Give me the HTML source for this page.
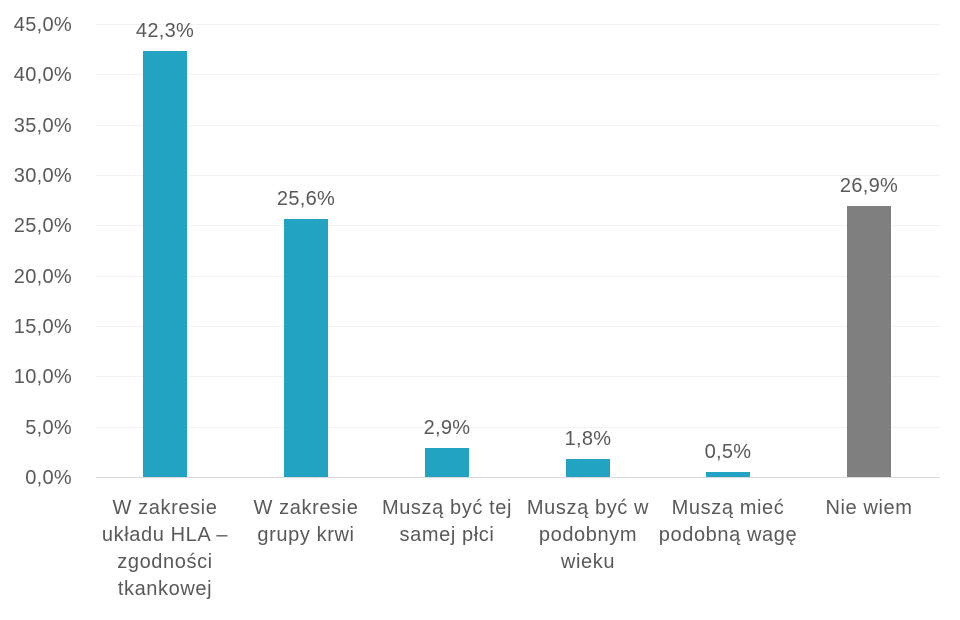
<!DOCTYPE html>
<html><head><meta charset="utf-8"><style>
body{margin:0;background:#fff}
svg text{font-family:"Liberation Sans",sans-serif;fill:#595959}
</style></head><body>
<svg width="960" height="615" xmlns="http://www.w3.org/2000/svg">
<g stroke="#f2f2f2" stroke-width="1">
<line x1="96" x2="940" y1="24.5" y2="24.5"/><line x1="96" x2="940" y1="74.5" y2="74.5"/>
<line x1="96" x2="940" y1="125.5" y2="125.5"/><line x1="96" x2="940" y1="175.5" y2="175.5"/>
<line x1="96" x2="940" y1="225.5" y2="225.5"/><line x1="96" x2="940" y1="276.5" y2="276.5"/>
<line x1="96" x2="940" y1="326.5" y2="326.5"/><line x1="96" x2="940" y1="376.5" y2="376.5"/>
<line x1="96" x2="940" y1="427.5" y2="427.5"/>
</g>
<line x1="96" x2="940" y1="477.5" y2="477.5" stroke="#d9d9d9"/>
<g font-size="20" text-anchor="end" letter-spacing="0.3">
<text x="72" y="31">45,0%</text><text x="72" y="81">40,0%</text><text x="72" y="132">35,0%</text>
<text x="72" y="182">30,0%</text><text x="72" y="232">25,0%</text><text x="72" y="283">20,0%</text>
<text x="72" y="333">15,0%</text><text x="72" y="383">10,0%</text><text x="72" y="434">5,0%</text>
<text x="72" y="484">0,0%</text>
</g>
<g fill="#21a3c1">
<rect x="143" y="51" width="44" height="426"/>
<rect x="284" y="219" width="44" height="258"/>
<rect x="425" y="448" width="44" height="29"/>
<rect x="566" y="459" width="44" height="18"/>
<rect x="706" y="472" width="44" height="5"/>
</g>
<rect x="847" y="206" width="44" height="271" fill="#7f7f7f"/>
<g font-size="20" text-anchor="middle" letter-spacing="0.3">
<text x="165" y="37">42,3%</text><text x="306" y="205">25,6%</text><text x="447" y="434">2,9%</text>
<text x="588" y="445">1,8%</text><text x="728" y="458">0,5%</text><text x="869" y="192">26,9%</text>
</g>
<g font-size="20" text-anchor="middle" letter-spacing="0.6">
<text x="165" y="514">W zakresie</text><text x="165" y="541">układu HLA –</text><text x="165" y="568">zgodności</text><text x="165" y="595">tkankowej</text>
<text x="306" y="514">W zakresie</text><text x="306" y="541">grupy krwi</text>
<text x="447" y="514">Muszą być tej</text><text x="447" y="541">samej płci</text>
<text x="588" y="514">Muszą być w</text><text x="588" y="541">podobnym</text><text x="588" y="568">wieku</text>
<text x="728" y="514">Muszą mieć</text><text x="728" y="541">podobną wagę</text>
<text x="869" y="514">Nie wiem</text>
</g>
</svg>
</body></html>
